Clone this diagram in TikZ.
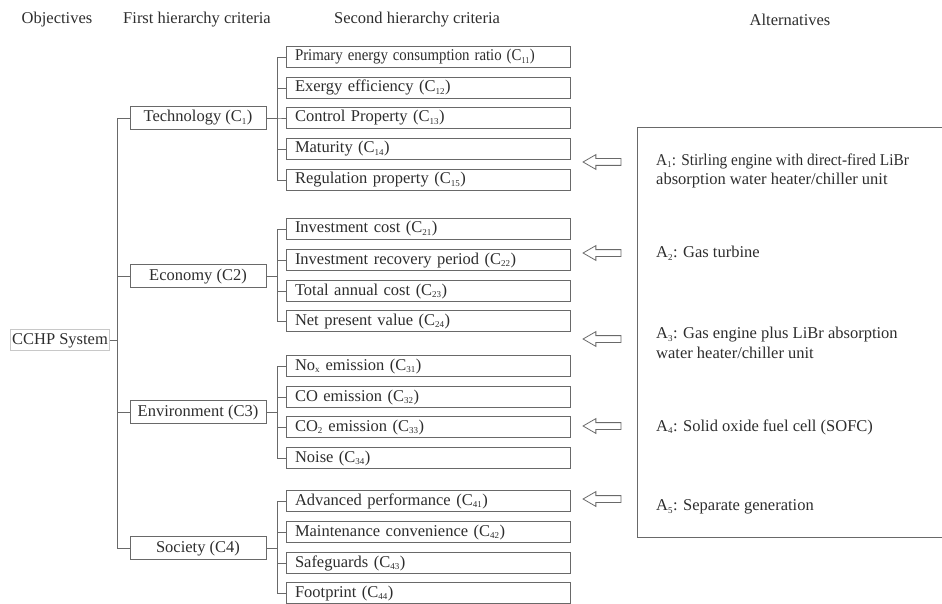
\documentclass[tikz,border=0pt]{standalone}
\usepackage{fontspec}
\setmainfont{Liberation Serif}
\usepackage{graphicx}
\usepackage{tikz}
\usetikzlibrary{shapes.arrows}
\usepackage{xcolor}
\definecolor{linegray}{RGB}{105,105,105}
\definecolor{textgray}{RGB}{45,45,45}
\definecolor{lightframe}{RGB}{200,200,200}
\newcommand{\ahpfont}{\fontsize{16.5}{19.5}\selectfont}
\newcommand{\sbs}[1]{\textsubscript{\fontsize{9}{9}\selectfont #1}}
\tikzset{
  headtxt/.style={font=\ahpfont,text=textgray,inner sep=0pt},
  sysbox/.style={draw=lightframe,line width=0.8pt,inner xsep=1.5pt,minimum height=21pt,
    text height=11.5pt,text depth=3.5pt,font=\ahpfont,text=textgray},
  firstbox/.style={draw=linegray,line width=0.9pt,minimum width=136pt,minimum height=23pt,
    inner sep=0pt,text height=11.5pt,text depth=3.5pt,font=\ahpfont,text=textgray},
  secbox/.style={draw=linegray,line width=0.9pt,text width=266pt,inner xsep=9pt,inner ysep=0pt,
    minimum height=21pt,align=left,text height=11.5pt,text depth=3.5pt,font=\ahpfont,text=textgray},
  alttxt/.style={anchor=west,align=left,inner sep=0pt,font=\ahpfont,text=textgray},
  altarrow/.style={single arrow,draw=linegray,line width=0.8pt,shape border rotate=180,
    minimum height=38pt,inner xsep=0pt,inner ysep=3pt,text height=0pt,text depth=0pt,
    single arrow head extend=4pt,single arrow tip angle=60},
  tree/.style={draw=linegray,line width=0.9pt}
}

\begin{document}
\begin{tikzpicture}[x=1pt,y=-1pt]
  \useasboundingbox (0,0) rectangle (942,604);
  % headings
  \node[headtxt] (hobj) at (57,20) {Objectives};
  \node[headtxt] (hfirst) at (197,20) {First hierarchy criteria};
  \node[headtxt] (hsecond) at (417,20) {Second hierarchy criteria};
  \node[headtxt] (halt) at (790,20) {Alternatives};
  % objective and first hierarchy
  \node[sysbox] (sys) at (60,340) {CCHP System};
  \node[firstbox] (tech) at (198,118) {Technology (C\sbs{1})};
  \node[firstbox] (econ) at (198,276) {Economy (C2)};
  \node[firstbox] (envi) at (198,412) {Environment (C3)};
  \node[firstbox] (soci) at (198,548) {Society (C4)};
  \draw[tree] (sys.east) -- ++(8,0) |- (tech.west);
  \draw[tree] (sys.east) -- ++(8,0) |- (econ.west);
  \draw[tree] (sys.east) -- ++(8,0) |- (envi.west);
  \draw[tree] (sys.east) -- ++(8,0) |- (soci.west);
  % technology
  \node[secbox] (c11) at (428,57) {\scalebox{0.9}[1]{Primary energy consumption ratio (C\sbs{11})}};
  \node[secbox] (c12) at (428,88) {Exergy efficiency (C\sbs{12})};
  \node[secbox] (c13) at (428,118) {Control Property (C\sbs{13})};
  \node[secbox] (c14) at (428,149) {Maturity (C\sbs{14})};
  \node[secbox] (c15) at (428,180) {Regulation property (C\sbs{15})};
  \draw[tree] (tech.east) -- ++(11,0) |- (c11.west);
  \draw[tree] (tech.east) -- ++(11,0) |- (c12.west);
  \draw[tree] (tech.east) -- ++(11,0) |- (c13.west);
  \draw[tree] (tech.east) -- ++(11,0) |- (c14.west);
  \draw[tree] (tech.east) -- ++(11,0) |- (c15.west);
  % economy
  \node[secbox] (c21) at (428,229) {Investment cost (C\sbs{21})};
  \node[secbox] (c22) at (428,260) {Investment recovery period (C\sbs{22})};
  \node[secbox] (c23) at (428,291) {Total annual cost (C\sbs{23})};
  \node[secbox] (c24) at (428,321) {Net present value (C\sbs{24})};
  \draw[tree] (econ.east) -- ++(11,0) |- (c21.west);
  \draw[tree] (econ.east) -- ++(11,0) |- (c22.west);
  \draw[tree] (econ.east) -- ++(11,0) |- (c23.west);
  \draw[tree] (econ.east) -- ++(11,0) |- (c24.west);
  % environment
  \node[secbox] (c31) at (428,366) {No\sbs{x} emission (C\sbs{31})};
  \node[secbox] (c32) at (428,397) {CO emission (C\sbs{32})};
  \node[secbox] (c33) at (428,427) {CO\sbs{2} emission (C\sbs{33})};
  \node[secbox] (c34) at (428,458) {Noise (C\sbs{34})};
  \draw[tree] (envi.east) -- ++(11,0) |- (c31.west);
  \draw[tree] (envi.east) -- ++(11,0) |- (c32.west);
  \draw[tree] (envi.east) -- ++(11,0) |- (c33.west);
  \draw[tree] (envi.east) -- ++(11,0) |- (c34.west);
  % society
  \node[secbox] (c41) at (428,501) {Advanced performance (C\sbs{41})};
  \node[secbox] (c42) at (428,532) {Maintenance convenience (C\sbs{42})};
  \node[secbox] (c43) at (428,563) {Safeguards (C\sbs{43})};
  \node[secbox] (c44) at (428,593) {Footprint (C\sbs{44})};
  \draw[tree] (soci.east) -- ++(11,0) |- (c41.west);
  \draw[tree] (soci.east) -- ++(11,0) |- (c42.west);
  \draw[tree] (soci.east) -- ++(11,0) |- (c43.west);
  \draw[tree] (soci.east) -- ++(11,0) |- (c44.west);
  % alternatives
  \draw[tree] (942,127) -- (637,127) -- (637,537) -- (942,537);
  \node[altarrow] (ar1) at (605,162) {};
  \node[altarrow] (ar2) at (605,253) {};
  \node[altarrow] (ar3) at (605,339) {};
  \node[altarrow] (ar4) at (605,426) {};
  \node[altarrow] (ar5) at (605,499) {};
  \node[alttxt] (alt1) at (656,171) {\scalebox{0.93}[1]{A\sbs{1}: Stirling engine with direct-fired LiBr}\\absorption water heater/chiller unit};
  \node[alttxt] (alt2) at (656,253) {A\sbs{2}: Gas turbine};
  \node[alttxt] (alt3) at (656,343) {A\sbs{3}: Gas engine plus LiBr absorption\\water heater/chiller unit};
  \node[alttxt] (alt4) at (656,427) {A\sbs{4}: Solid oxide fuel cell (SOFC)};
  \node[alttxt] (alt5) at (656,507) {A\sbs{5}: Separate generation};
\end{tikzpicture}
\end{document}
